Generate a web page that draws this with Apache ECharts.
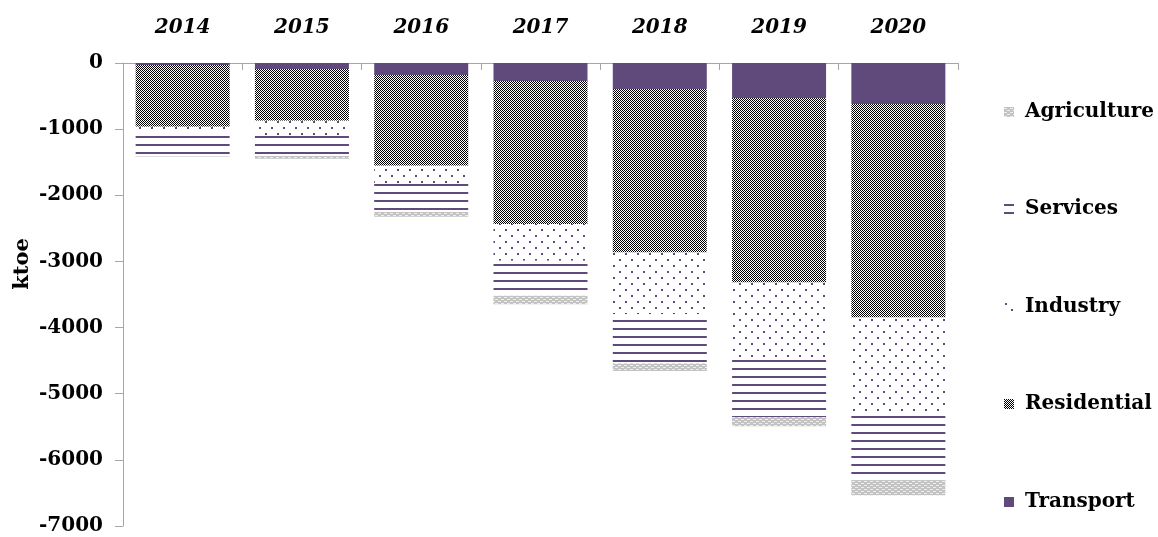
<!DOCTYPE html>
<html>
<head>
<meta charset="utf-8">
<script src="https://cdn.jsdelivr.net/npm/echarts@6/dist/echarts.min.js"></script>
<style>
  html, body { margin: 0; padding: 0; background: #fff; }
  #chart { width: 1158px; height: 537px; }
</style>
</head>
<body>
<div id="chart"></div>
<script>
// data (ktoe)
var years = ['2014', '2015', '2016', '2017', '2018', '2019', '2020'];
var transport = [-30, -90, -182, -272, -393, -530, -620];
var residential = [-933, -782, -1372, -2164, -2471, -2788, -3227];
var industry = [-81, -216, -266, -555, -933, -1134, -1468];
var services = [-363, -318, -434, -529, -746, -899, -994];
var agriculture = [-8, -41, -71, -126, -112, -141, -227];
var legendNames = ['Agriculture', 'Services', 'Industry', 'Residential', 'Transport'];

var purple = '#604a7b';
var font = 'DejaVu Serif';

// small canvas tiles used as fill patterns
function makePattern(w, h, draw) {
  var c = document.createElement('canvas');
  c.width = w;
  c.height = h;
  var ctx = c.getContext('2d');
  ctx.fillStyle = '#fff';
  ctx.fillRect(0, 0, w, h);
  draw(ctx);
  return {image: c, repeat: 'repeat'};
}

var checker = makePattern(2, 2, function (ctx) {
  ctx.fillStyle = '#000';
  ctx.fillRect(0, 0, 1, 1);
  ctx.fillRect(1, 1, 1, 1);
});
var dots = makePattern(12, 12, function (ctx) {
  ctx.fillStyle = purple;
  ctx.fillRect(1, 1, 2, 2);
  ctx.fillRect(7, 7, 2, 2);
});
var hlines = makePattern(4, 8, function (ctx) {
  ctx.fillStyle = purple;
  ctx.fillRect(0, 0, 4, 2);
});
var weave = makePattern(6, 4, function (ctx) {
  ctx.fillStyle = '#c3c3c3';
  ctx.fillRect(0, 0, 6, 4);
  ctx.fillStyle = '#eee';
  ctx.fillRect(0, 1, 3, 1);
  ctx.fillRect(3, 3, 3, 1);
});

var colors = {
  Transport: purple,
  Residential: checker,
  Industry: dots,
  Services: hlines,
  Agriculture: weave
};

var chart = echarts.init(document.getElementById('chart'));

var legendTops = [97, 194, 292, 389, 487];
var legends = legendNames.map(function (n, i) {
  return {
    data: [n],
    left: 999,
    top: legendTops[i],
    icon: 'rect',
    itemWidth: 10,
    itemHeight: 10,
    selectedMode: false,
    textStyle: {
      fontFamily: font,
      fontWeight: 'bold',
      fontSize: 20,
      color: '#000',
      padding: [0, 0, 0, 6]
    }
  };
});

function bar(name, data) {
  return {
    name: name,
    type: 'bar',
    stack: 'total',
    barWidth: 94,
    data: data,
    itemStyle: {color: colors[name]}
  };
}

var option = {
  animation: false,
  backgroundColor: '#fff',
  grid: {left: 123, right: 200, top: 63, bottom: 11, containLabel: false},
  legend: legends,
  xAxis: {
    type: 'category',
    position: 'top',
    data: years,
    axisLine: {lineStyle: {color: '#a6a6a6', width: 1}},
    axisTick: {show: true, inside: true, length: 7, lineStyle: {color: '#a6a6a6'}},
    axisLabel: {
      margin: 25,
      fontFamily: font,
      fontStyle: 'italic',
      fontWeight: 'bold',
      fontSize: 20,
      color: '#000'
    }
  },
  yAxis: {
    type: 'value',
    min: -7000,
    max: 0,
    interval: 1000,
    axisLine: {show: true, lineStyle: {color: '#a6a6a6', width: 1}},
    axisTick: {show: true, length: 8, lineStyle: {color: '#a6a6a6'}},
    splitLine: {show: false},
    axisLabel: {
      margin: 20,
      fontFamily: font,
      fontWeight: 'bold',
      fontSize: 20,
      color: '#000',
      formatter: function (v) { return String(v); }
    }
  },
  graphic: [{
    type: 'text',
    x: 23,
    y: 264,
    rotation: Math.PI / 2,
    style: {
      text: 'ktoe',
      fontFamily: font,
      fontWeight: 'bold',
      fontSize: 21,
      fill: '#000',
      align: 'center',
      verticalAlign: 'middle'
    }
  }],
  series: [
    bar('Transport', transport),
    bar('Residential', residential),
    bar('Industry', industry),
    bar('Services', services),
    bar('Agriculture', agriculture)
  ]
};

chart.setOption(option);
</script>
</body>
</html>
